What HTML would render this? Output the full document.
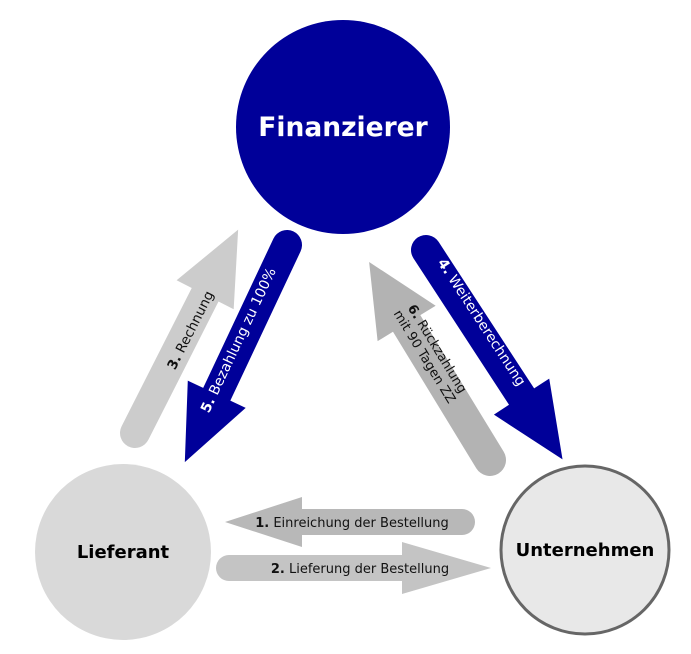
<!DOCTYPE html>
<html><head><meta charset="utf-8"><style>
html,body{margin:0;padding:0;background:#fff;width:691px;height:654px;overflow:hidden}
text{font-family:"DejaVu Sans","Liberation Sans",sans-serif}
</style></head><body>
<svg width="691" height="654" viewBox="0 0 691 654" xmlns="http://www.w3.org/2000/svg">
<g transform="translate(135,433) rotate(-63.1)">
<path d="M0,-15 L155,-15 L155,-32 L228,0 L155,32 L155,15 L0,15 A15,15 0 0 1 0,-15 Z" fill="#cccccc"/>
</g>
<g transform="translate(287,245) rotate(115.2)">
<path d="M0,-15 L165,-15 L165,-32 L240,0 L165,32 L165,15 L0,15 A15,15 0 0 1 0,-15 Z" fill="#000099"/>
</g>
<g transform="translate(426,250) rotate(56.9)">
<path d="M0,-15 L175,-15 L175,-33 L250,0 L175,33 L175,15 L0,15 A15,15 0 0 1 0,-15 Z" fill="#000099"/>
</g>
<g transform="translate(490,460) rotate(-121.4)">
<path d="M0,-16 L160,-16 L160,-34 L232,0 L160,34 L160,16 L0,16 A16,16 0 0 1 0,-16 Z" fill="#b3b3b3"/>
</g>
<g transform="translate(462,522) rotate(180)">
<path d="M0,-13 L160,-13 L160,-25 L237,0 L160,25 L160,13 L0,13 A13,13 0 0 1 0,-13 Z" fill="#b8b8b8"/>
</g>
<g transform="translate(229,568)">
<path d="M0,-13 L173,-13 L173,-26 L262,0 L173,26 L173,13 L0,13 A13,13 0 0 1 0,-13 Z" fill="#c4c4c4"/>
</g>

<circle cx="343" cy="127" r="107" fill="#000099"/>
<text x="343" y="136" text-anchor="middle" font-size="26.5" font-weight="bold" fill="#fff">Finanzierer</text>
<circle cx="123" cy="552" r="88" fill="#d9d9d9"/>
<text x="123" y="558" text-anchor="middle" font-size="18" font-weight="bold" fill="#000">Lieferant</text>
<circle cx="585" cy="550" r="84" fill="#e8e8e8" stroke="#666" stroke-width="3"/>
<text x="585" y="556" text-anchor="middle" font-size="18" font-weight="bold" fill="#000">Unternehmen</text>

<text transform="translate(190,330) rotate(-63.1)" text-anchor="middle" font-size="13.5" fill="#111" dy="5"><tspan font-weight="bold">3.</tspan> Rechnung</text>
<text transform="translate(238,340) rotate(-64.8)" text-anchor="middle" font-size="14" fill="#fff" dy="5"><tspan font-weight="bold">5.</tspan> Bezahlung zu 100%</text>
<text transform="translate(482,322) rotate(56.9)" text-anchor="middle" font-size="14" fill="#fff" dy="5"><tspan font-weight="bold">4.</tspan> Weiterberechnung</text>
<text transform="translate(432,352) rotate(58.6)" text-anchor="middle" font-size="13" fill="#111"><tspan x="0" dy="-2"><tspan font-weight="bold">6.</tspan> Rückzahlung</tspan><tspan x="0" dy="15">mit 90 Tagen ZZ</tspan></text>

<text x="352" y="527" text-anchor="middle" font-size="13" fill="#111"><tspan font-weight="bold">1.</tspan> Einreichung der Bestellung</text>
<text x="360" y="573" text-anchor="middle" font-size="13" fill="#111"><tspan font-weight="bold">2.</tspan> Lieferung der Bestellung</text>
</svg>
</body></html>
